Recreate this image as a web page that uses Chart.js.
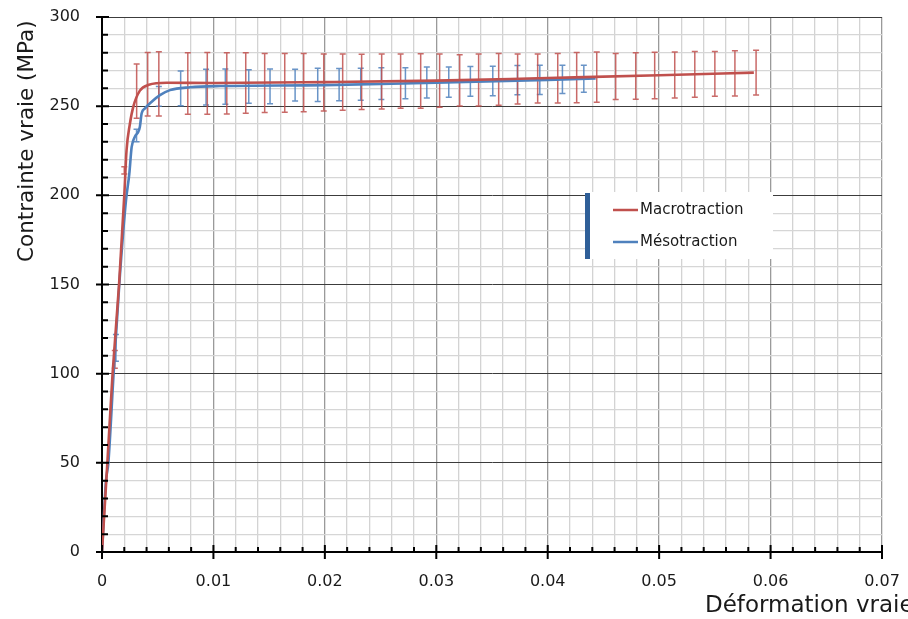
<!DOCTYPE html>
<html>
<head>
<meta charset="utf-8">
<script src="https://cdn.jsdelivr.net/npm/chart.js@4.4.1/dist/chart.umd.min.js"></script>
<style>
  html,body{margin:0;padding:0;background:#fff;}
  #wrap{width:908px;height:619px;position:relative;}
</style>
</head>
<body>
<div id="wrap"><canvas id="chart"></canvas></div>
<script>
/* données */
const strainMacro = [0, 0.00048, 0.00095, 0.00153, 0.0020, 0.0022, 0.0025, 0.0028, 0.0034, 0.0042, 0.0058, 0.010, 0.020, 0.030, 0.040, 0.050, 0.0585];
const stressMacro = [0, 50, 100, 150, 200, 225, 240, 249.5, 258.7, 262, 263.1, 263, 263.5, 264.3, 265.8, 267.3, 268.8];

const strainMeso = [0, 0.00036, 0.00057, 0.00104, 0.00155, 0.00215, 0.00245, 0.00266, 0.00296, 0.00326, 0.0034, 0.00356, 0.00386, 0.00446, 0.0052, 0.0061, 0.0079, 0.0106, 0.020, 0.030, 0.040, 0.0443];
const stressMeso = [0, 40, 50, 100, 150, 197, 212, 227, 233, 235.7, 238.5, 246, 248.8, 252.5, 256.2, 259, 260.6, 261.3, 261.8, 263.2, 264.7, 265.6];

// barres d'erreur : position, centre, demi-amplitude
const errMacroX = [0.00115, 0.0020, 0.00311, 0.0041, 0.0051, 0.0077, 0.00945, 0.0112, 0.0129, 0.0146, 0.0164, 0.0181, 0.0199, 0.0216, 0.0233, 0.0251, 0.0268, 0.0286, 0.0303, 0.0321, 0.0338, 0.0356, 0.0373, 0.0391, 0.0409, 0.0426, 0.0444, 0.0461, 0.0479, 0.0496, 0.0514, 0.0532, 0.0550, 0.0568, 0.0587];
const errMacroY = [108, 214, 258.4, 262.3, 262.5, 262.7, 262.8, 262.8, 263, 263, 263.1, 263.2, 263.3, 263.5, 263.6, 263.8, 264, 264.1, 264.3, 264.5, 264.7, 265, 265.2, 265.5, 265.7, 266, 266.3, 266.6, 266.9, 267.2, 267.5, 267.8, 268.1, 268.4, 268.8];
const errMacroD = [5, 2, 15.2, 17.8, 18, 17.3, 17.3, 17.2, 17, 16.5, 16.5, 16.3, 16, 15.8, 15.5, 15.4, 15.2, 15.3, 14.9, 14.4, 14.6, 14.5, 14, 13.7, 13.9, 14.1, 14.1, 12.9, 13, 13, 12.9, 12.8, 12.6, 12.7, 12.5];

const errMesoX = [0.00125, 0.0031, 0.0051, 0.00706, 0.00934, 0.01107, 0.01317, 0.01508, 0.01733, 0.01936, 0.02128, 0.02322, 0.02507, 0.02723, 0.02915, 0.03112, 0.03306, 0.03507, 0.03728, 0.03929, 0.04132, 0.04324];
const errMesoY = [114.5, 233.5, 255.5, 260, 260.7, 261, 261, 261.1, 261.8, 261.9, 262.1, 262.3, 262.7, 262.9, 263.3, 263.5, 263.9, 264.1, 264.6, 264.8, 265, 265.4];
const errMesoD = [7.5, 3.5, 5.5, 9.7, 10, 9.9, 9.4, 9.7, 8.9, 9.3, 9, 9, 8.9, 8.7, 8.7, 8.5, 8.4, 8.3, 8.2, 8.2, 7.9, 7.6];

const xTickLabels = ['0', '0.01', '0.02', '0.03', '0.04', '0.05', '0.06', '0.07'];
const yTickLabels = ['0', '50', '100', '150', '200', '250', '300'];

const seriesNames = ['Macrotraction', 'Mésotraction'];
const RED = '#C0504D', BLUE = '#4F81BD';
const FONT = "'DejaVu Sans', sans-serif";

const pts = (xs, ys) => xs.map((x, i) => ({x, y: ys[i]}));
const isMajor = (i) => i % 5 === 0;

const errorBars = {
  id: 'errorBars',
  beforeDatasetsDraw(chart) {
    const {ctx, scales:{x, y}} = chart;
    const sets = [
      {xs: errMesoX, ys: errMesoY, ds: errMesoD, c: 'rgba(79,129,189,0.85)'},
      {xs: errMacroX, ys: errMacroY, ds: errMacroD, c: 'rgba(192,80,77,0.85)'}
    ];
    ctx.save();
    ctx.lineWidth = 1.5;
    sets.forEach(s => {
      ctx.strokeStyle = s.c;
      s.xs.forEach((v, i) => {
        const px = x.getPixelForValue(v);
        const t = y.getPixelForValue(s.ys[i] + s.ds[i]);
        const b = y.getPixelForValue(s.ys[i] - s.ds[i]);
        ctx.beginPath();
        ctx.moveTo(px, t); ctx.lineTo(px, b);
        ctx.moveTo(px - 3, t); ctx.lineTo(px + 3, t);
        ctx.moveTo(px - 3, b); ctx.lineTo(px + 3, b);
        ctx.stroke();
      });
    });
    ctx.restore();
  }
};

const axisDecor = {
  id: 'axisDecor',
  afterDraw(chart) {
    const {ctx, chartArea:a, scales:{x, y}} = chart;
    ctx.save();
    ctx.strokeStyle = '#000';
    ctx.lineWidth = 2;
    ctx.beginPath();
    x.ticks.forEach((t, i) => {
      const px = x.getPixelForValue(t.value);
      if (isMajor(i)) { ctx.moveTo(px, a.bottom - 7); ctx.lineTo(px, a.bottom + 7); }
      else { ctx.moveTo(px, a.bottom - 5); ctx.lineTo(px, a.bottom); }
    });
    y.ticks.forEach((t, i) => {
      const py = y.getPixelForValue(t.value);
      if (isMajor(i)) { ctx.moveTo(a.left - 6, py); ctx.lineTo(a.left + 7, py); }
      else { ctx.moveTo(a.left, py); ctx.lineTo(a.left + 6, py); }
    });
    ctx.stroke();

    // titres des axes
    ctx.fillStyle = '#1a1a1a';
    ctx.font = `23px ${FONT}`;
    ctx.textAlign = 'left';
    ctx.textBaseline = 'alphabetic';
    ctx.fillText('Déformation vraie', 705, 612);
    ctx.translate(33, 262);
    ctx.rotate(-Math.PI / 2);
    ctx.font = `21.5px ${FONT}`;
    ctx.fillText('Contrainte vraie (MPa)', 0, 0);
    ctx.restore();

    // légende
    ctx.save();
    ctx.fillStyle = '#fff';
    ctx.fillRect(590, 192, 183, 67);
    ctx.fillStyle = '#2F5F98';
    ctx.fillRect(585, 193, 5, 66);
    chart.data.datasets.forEach((d, i) => {
      const ly = 210 + i * 32;
      ctx.strokeStyle = d.borderColor;
      ctx.lineWidth = 2.5;
      ctx.beginPath(); ctx.moveTo(613, ly); ctx.lineTo(638, ly); ctx.stroke();
      ctx.fillStyle = '#1a1a1a';
      ctx.font = `15px ${FONT}`;
      ctx.textBaseline = 'middle';
      ctx.fillText(d.label, 640, ly);
    });
    ctx.restore();
  }
};

new Chart(document.getElementById('chart'), {
  type: 'scatter',
  data: {
    datasets: [
      {label: seriesNames[0], data: pts(strainMacro, stressMacro), borderColor: RED, backgroundColor: RED,
       showLine: true, pointRadius: 0, borderWidth: 2.6, cubicInterpolationMode: 'monotone', order: 1},
      {label: seriesNames[1], data: pts(strainMeso, stressMeso), borderColor: BLUE, backgroundColor: BLUE,
       showLine: true, pointRadius: 0, borderWidth: 2.6, cubicInterpolationMode: 'monotone', order: 2}
    ]
  },
  options: {
    responsive: true, maintainAspectRatio: false, animation: false,
    layout: {padding: {top: 17, right: 26, left: 0, bottom: 0}},
    plugins: {legend: {display: false}, tooltip: {enabled: false}},
    scales: {
      x: {
        type: 'linear', min: 0, max: 0.07,
        afterFit: s => { s.height = 67; },
        border: {color: '#000', width: 2},
        grid: {
          drawTicks: true, tickLength: 13, tickColor: 'rgba(0,0,0,0)',
          color: c => isMajor(c.index) ? '#9a9a9a' : '#d3d3d3',
          lineWidth: 1.3
        },
        ticks: {
          stepSize: 0.002, autoSkip: false, maxRotation: 0, padding: 7,
          color: '#1a1a1a', font: {family: FONT, size: 16},
          callback: (v, i) => isMajor(i) ? xTickLabels[i / 5] : ''
        }
      },
      y: {
        min: 0, max: 300,
        afterFit: s => { s.width = 102; },
        border: {color: '#000', width: 2},
        grid: {
          drawTicks: true, tickLength: 15, tickColor: 'rgba(0,0,0,0)',
          color: c => isMajor(c.index) ? '#3c3c3c' : '#d6d6d6',
          lineWidth: c => isMajor(c.index) ? 1 : 1.3
        },
        ticks: {
          stepSize: 10, autoSkip: false, padding: 7,
          color: '#1a1a1a', font: {family: FONT, size: 16},
          callback: (v, i) => isMajor(i) ? yTickLabels[i / 5] : ''
        }
      }
    }
  },
  plugins: [errorBars, axisDecor]
});
</script>
</body>
</html>
